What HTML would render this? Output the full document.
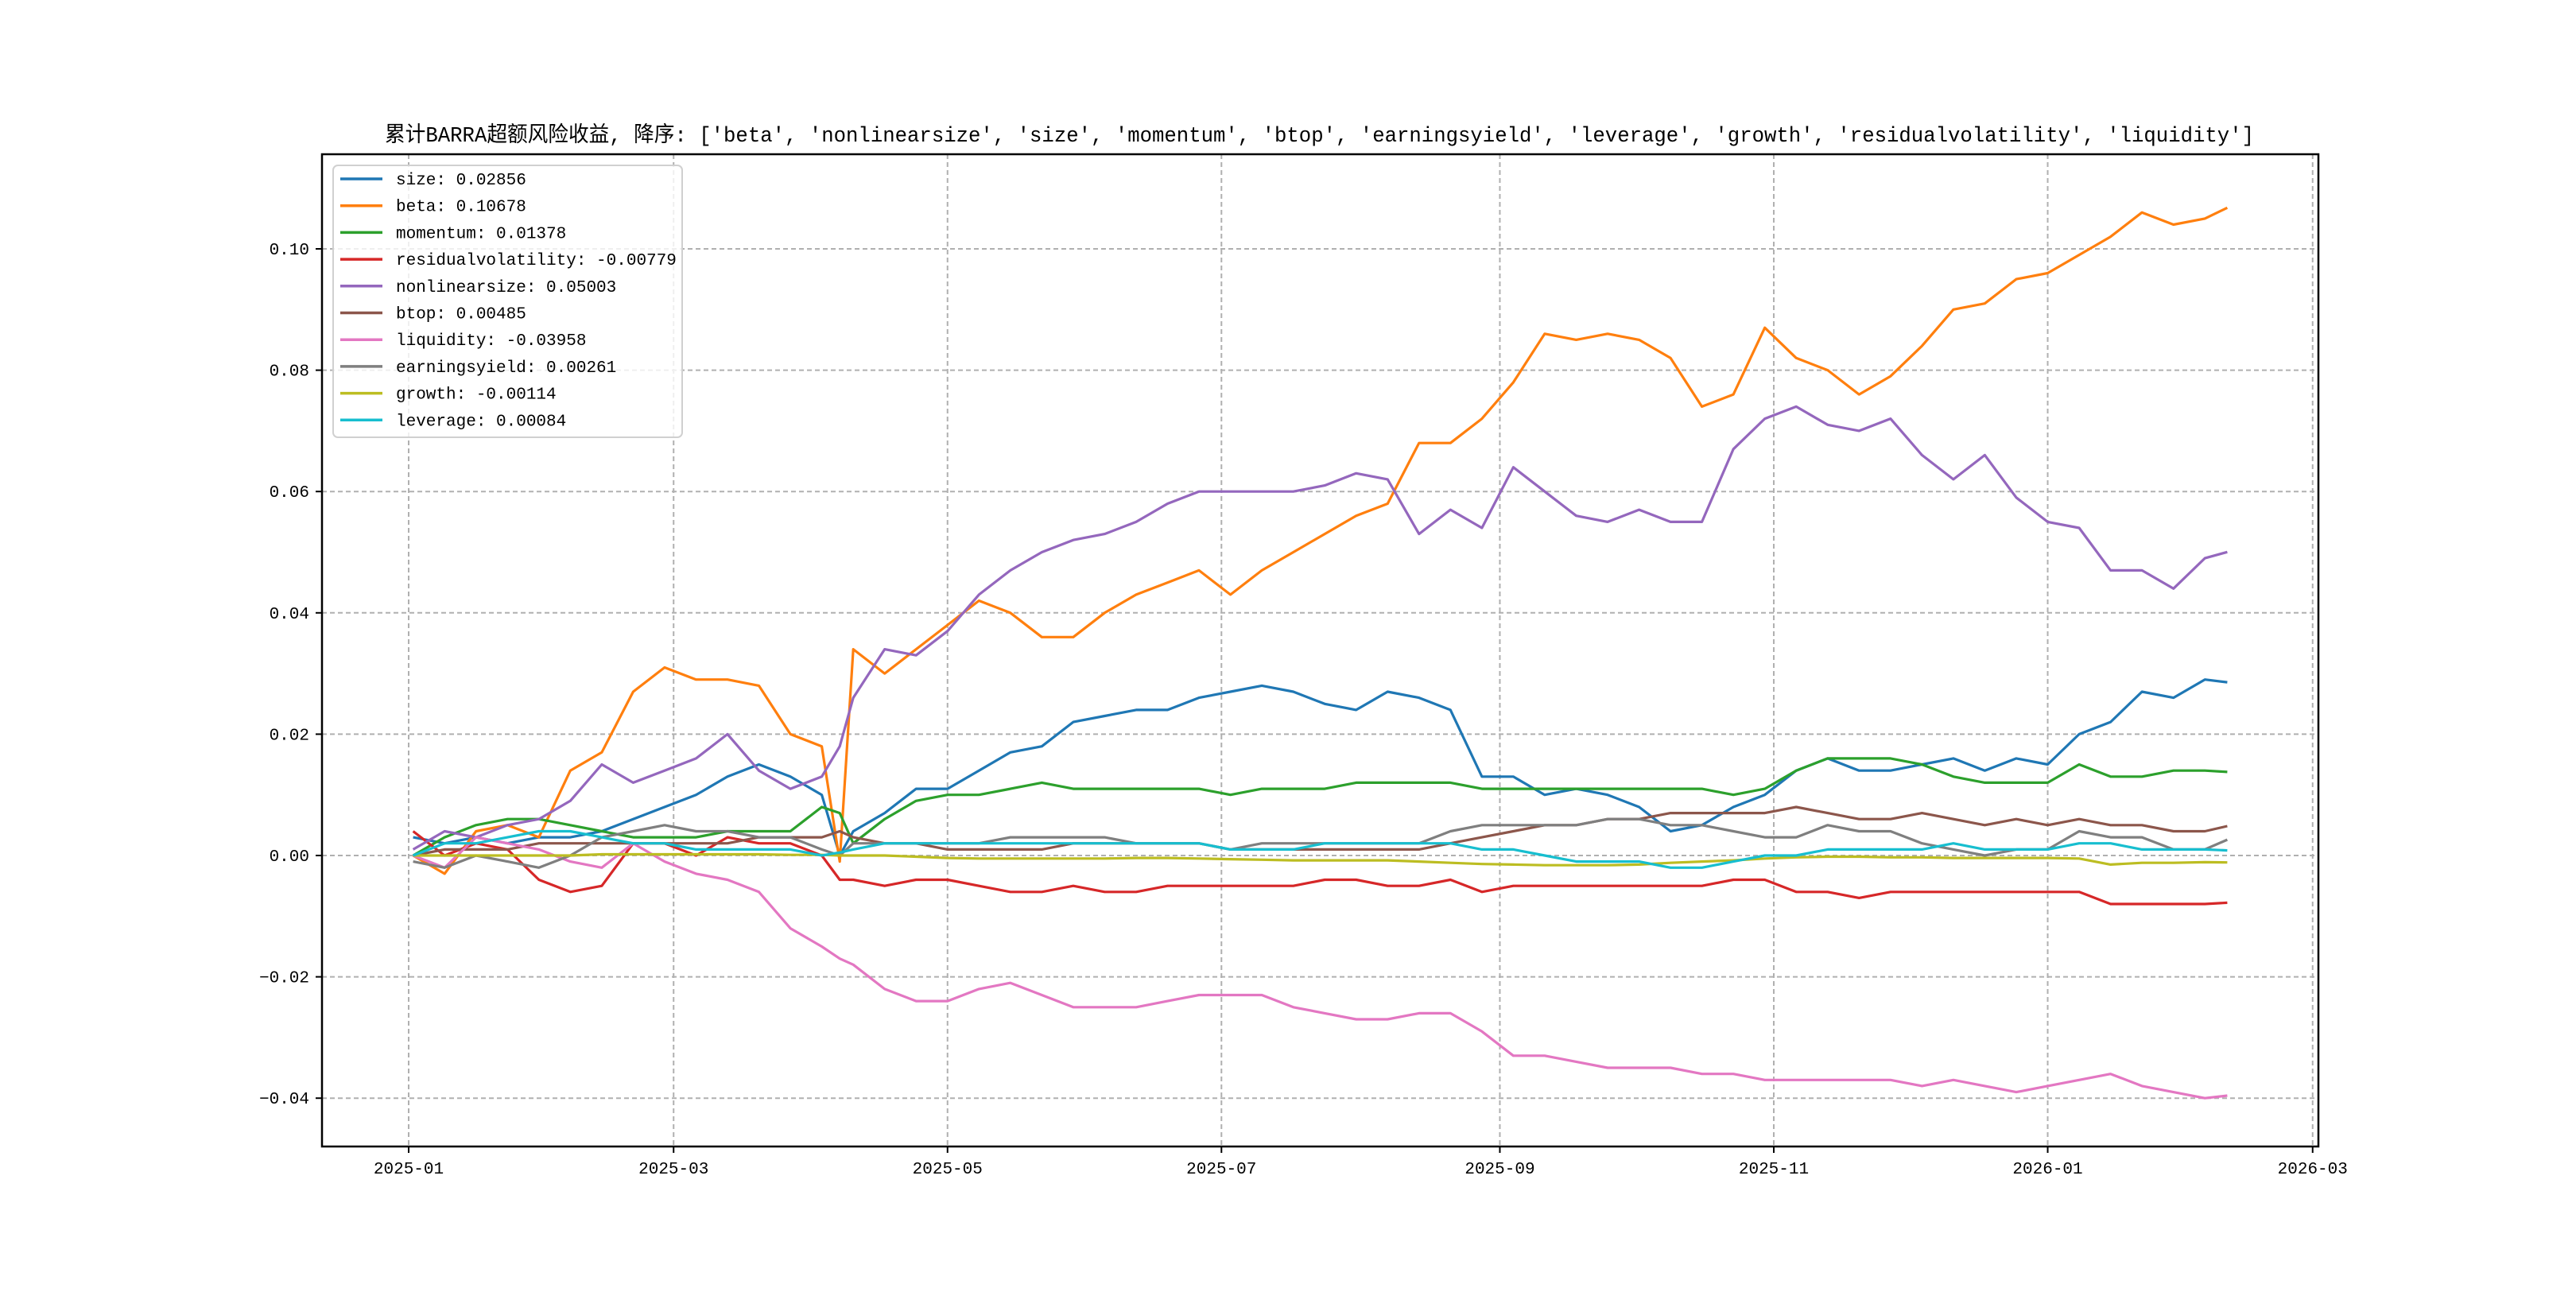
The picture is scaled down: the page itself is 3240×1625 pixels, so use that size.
<!DOCTYPE html>
<html><head><meta charset="utf-8">
<style>
html,body{margin:0;padding:0;background:#fff;}
svg text{font-family:"Liberation Mono","WenQuanYi Zen Hei","Noto Sans CJK SC",monospace;}
</style></head>
<body>
<svg id="chart" width="3240" height="1620" viewBox="0 0 3240 1620" xmlns="http://www.w3.org/2000/svg">
<rect x="0" y="0" width="3240" height="1620" fill="#fff"/>
<g id="grid"></g>
<g id="series"></g>
<rect x="405" y="194" width="2511" height="1248" fill="none" stroke="#000" stroke-width="2.5"/>
<g id="axes"></g>
<text x="484" y="178" textLength="2351" lengthAdjust="spacingAndGlyphs" font-size="27" fill="#000">累计BARRA超额风险收益,  降序: ['beta', 'nonlinearsize', 'size', 'momentum', 'btop', 'earningsyield', 'leverage', 'growth', 'residualvolatility', 'liquidity']</text>
<g id="legend"></g>
</svg>
<script>
const days = [1,8,15,22,29,36,43,50,57,64,71,78,85,92,96,99,106,113,120,127,134,141,148,155,162,169,176,183,190,197,204,211,218,225,232,239,246,253,260,267,274,281,288,295,302,309,316,323,330,337,344,351,358,365,372,379,386,393,400,405];
const beta = [0,-0.003,0.004,0.005,0.003,0.014,0.017,0.027,0.031,0.029,0.029,0.028,0.020,0.018,-0.001,0.034,0.030,0.034,0.038,0.042,0.040,0.036,0.036,0.040,0.043,0.045,0.047,0.043,0.047,0.050,0.053,0.056,0.058,0.068,0.068,0.072,0.078,0.086,0.085,0.086,0.085,0.082,0.074,0.076,0.087,0.082,0.080,0.076,0.079,0.084,0.090,0.091,0.095,0.096,0.099,0.102,0.106,0.104,0.105,0.10678];
const nonlinearsize = [0.001,0.004,0.003,0.005,0.006,0.009,0.015,0.012,0.014,0.016,0.020,0.014,0.011,0.013,0.018,0.026,0.034,0.033,0.037,0.043,0.047,0.050,0.052,0.053,0.055,0.058,0.060,0.060,0.060,0.060,0.061,0.063,0.062,0.053,0.057,0.054,0.064,0.060,0.056,0.055,0.057,0.055,0.055,0.067,0.072,0.074,0.071,0.070,0.072,0.066,0.062,0.066,0.059,0.055,0.054,0.047,0.047,0.044,0.049,0.05003];
const size = [0.003,0.002,0.003,0.002,0.003,0.003,0.004,0.006,0.008,0.010,0.013,0.015,0.013,0.010,0.000,0.004,0.007,0.011,0.011,0.014,0.017,0.018,0.022,0.023,0.024,0.024,0.026,0.027,0.028,0.027,0.025,0.024,0.027,0.026,0.024,0.013,0.013,0.010,0.011,0.010,0.008,0.004,0.005,0.008,0.010,0.014,0.016,0.014,0.014,0.015,0.016,0.014,0.016,0.015,0.020,0.022,0.027,0.026,0.029,0.02856];
const momentum = [0,0.003,0.005,0.006,0.006,0.005,0.004,0.003,0.003,0.003,0.004,0.004,0.004,0.008,0.007,0.002,0.006,0.009,0.010,0.010,0.011,0.012,0.011,0.011,0.011,0.011,0.011,0.010,0.011,0.011,0.011,0.012,0.012,0.012,0.012,0.011,0.011,0.011,0.011,0.011,0.011,0.011,0.011,0.010,0.011,0.014,0.016,0.016,0.016,0.015,0.013,0.012,0.012,0.012,0.015,0.013,0.013,0.014,0.014,0.01378];
const residualvolatility = [0.004,0.000,0.002,0.001,-0.004,-0.006,-0.005,0.002,0.002,0.000,0.003,0.002,0.002,0.000,-0.004,-0.004,-0.005,-0.004,-0.004,-0.005,-0.006,-0.006,-0.005,-0.006,-0.006,-0.005,-0.005,-0.005,-0.005,-0.005,-0.004,-0.004,-0.005,-0.005,-0.004,-0.006,-0.005,-0.005,-0.005,-0.005,-0.005,-0.005,-0.005,-0.004,-0.004,-0.006,-0.006,-0.007,-0.006,-0.006,-0.006,-0.006,-0.006,-0.006,-0.006,-0.008,-0.008,-0.008,-0.008,-0.00779];
const btop = [0,0.001,0.001,0.001,0.002,0.002,0.002,0.002,0.002,0.002,0.002,0.003,0.003,0.003,0.004,0.003,0.002,0.002,0.001,0.001,0.001,0.001,0.002,0.002,0.002,0.002,0.002,0.001,0.001,0.001,0.001,0.001,0.001,0.001,0.002,0.003,0.004,0.005,0.005,0.006,0.006,0.007,0.007,0.007,0.007,0.008,0.007,0.006,0.006,0.007,0.006,0.005,0.006,0.005,0.006,0.005,0.005,0.004,0.004,0.00485];
const liquidity = [0,-0.002,0.003,0.002,0.001,-0.001,-0.002,0.002,-0.001,-0.003,-0.004,-0.006,-0.012,-0.015,-0.017,-0.018,-0.022,-0.024,-0.024,-0.022,-0.021,-0.023,-0.025,-0.025,-0.025,-0.024,-0.023,-0.023,-0.023,-0.025,-0.026,-0.027,-0.027,-0.026,-0.026,-0.029,-0.033,-0.033,-0.034,-0.035,-0.035,-0.035,-0.036,-0.036,-0.037,-0.037,-0.037,-0.037,-0.037,-0.038,-0.037,-0.038,-0.039,-0.038,-0.037,-0.036,-0.038,-0.039,-0.040,-0.03958];
const earningsyield = [-0.001,-0.002,0.000,-0.001,-0.002,0.000,0.003,0.004,0.005,0.004,0.004,0.003,0.003,0.001,0.000,0.002,0.002,0.002,0.002,0.002,0.003,0.003,0.003,0.003,0.002,0.002,0.002,0.001,0.002,0.002,0.002,0.002,0.002,0.002,0.004,0.005,0.005,0.005,0.005,0.006,0.006,0.005,0.005,0.004,0.003,0.003,0.005,0.004,0.004,0.002,0.001,0.000,0.001,0.001,0.004,0.003,0.003,0.001,0.001,0.00261];
const growth = [0,0,0,0,0,0,0.0002,0.0002,0.0002,0.0002,0.0002,0.0002,0.0001,0.0001,0,0,0,-0.0002,-0.0004,-0.0005,-0.0005,-0.0005,-0.0005,-0.0005,-0.0004,-0.0004,-0.0005,-0.0006,-0.0007,-0.0008,-0.0008,-0.0008,-0.0008,-0.001,-0.0012,-0.0014,-0.0015,-0.0016,-0.0016,-0.0016,-0.0015,-0.0012,-0.0010,-0.0008,-0.0005,-0.0003,-0.0002,-0.0002,-0.0003,-0.0003,-0.0004,-0.0004,-0.0004,-0.0004,-0.0005,-0.0015,-0.0012,-0.0012,-0.0011,-0.00114];
const leverage = [0,0.002,0.002,0.003,0.004,0.004,0.003,0.002,0.002,0.001,0.001,0.001,0.001,0.000,0.0005,0.001,0.002,0.002,0.002,0.002,0.002,0.002,0.002,0.002,0.002,0.002,0.002,0.001,0.001,0.001,0.002,0.002,0.002,0.002,0.002,0.001,0.001,0.000,-0.001,-0.001,-0.001,-0.002,-0.002,-0.001,0.000,0.000,0.001,0.001,0.001,0.001,0.002,0.001,0.001,0.001,0.002,0.002,0.001,0.001,0.001,0.00084];
const seriesNames = ['size','beta','momentum','residualvolatility','nonlinearsize','btop','liquidity','earningsyield','growth','leverage'];
const seriesValues = [size,beta,momentum,residualvolatility,nonlinearsize,btop,liquidity,earningsyield,growth,leverage];
const finalLabels = ['0.02856','0.10678','0.01378','-0.00779','0.05003','0.00485','-0.03958','0.00261','-0.00114','0.00084'];
const colors = ['#1f77b4','#ff7f0e','#2ca02c','#d62728','#9467bd','#8c564b','#e377c2','#7f7f7f','#bcbd22','#17becf'];
const yTicks = [-0.04,-0.02,0.00,0.02,0.04,0.06,0.08,0.10];
const yTickLabels = ['−0.04','−0.02','0.00','0.02','0.04','0.06','0.08','0.10'];
const xTickDays = [0,59,120,181,243,304,365,424];
const xTickLabels = ['2025-01','2025-03','2025-05','2025-07','2025-09','2025-11','2026-01','2026-03'];

const NS='http://www.w3.org/2000/svg';
const X0=514, PXD=5.648, Y0=1076, PXU=7630;
const L=405,R=2916,T=194,B=1442;
function xs(d){return X0+d*PXD;}
function ys(v){return Y0-v*PXU;}
function mk(tag,attrs,parent){const e=document.createElementNS(NS,tag);for(const k in attrs)e.setAttribute(k,attrs[k]);parent.appendChild(e);return e;}
const grid=document.getElementById('grid'),axes=document.getElementById('axes'),ser=document.getElementById('series'),leg=document.getElementById('legend');
yTicks.forEach((t,i)=>{
  const y=ys(t);
  const g=mk('line',{x1:L,x2:R,y1:y,y2:y,stroke:'#b0b0b0','stroke-width':2,'stroke-dasharray':'6,4'},grid);
  
  
  const tk=mk('line',{x1:L-8,x2:L,y1:y,y2:y,stroke:'#000','stroke-width':2},axes);
  
  
  const tx=mk('text',{x:L-16,y:y+7,'text-anchor':'end','font-size':21,fill:'#000'},axes);
  tx.textContent=yTickLabels[i];
  
  
});
xTickDays.forEach((d,i)=>{
  const x=xs(d);
  const g=mk('line',{x1:x,x2:x,y1:T,y2:B,stroke:'#b0b0b0','stroke-width':2,'stroke-dasharray':'6,4'},grid);
  
  
  const tk=mk('line',{x1:x,x2:x,y1:B,y2:B+8,stroke:'#000','stroke-width':2},axes);
  
  
  const tx=mk('text',{x:x,y:B+34,'text-anchor':'middle','font-size':21,fill:'#000'},axes);
  tx.textContent=xTickLabels[i];
  
  
});
seriesValues.forEach((vals,si)=>{
  const pts=vals.map((v,i)=>xs(days[i]).toFixed(1)+','+ys(v).toFixed(1)).join(' ');
  const p=mk('polyline',{points:pts,fill:'none',stroke:colors[si],'stroke-width':3.2,'stroke-linejoin':'round'},ser);
  
  
});
const lb=mk('rect',{x:419,y:208,width:439,height:342,rx:6,fill:'#fff','fill-opacity':0.8,stroke:'#d0d0d0','stroke-width':2},leg);


seriesNames.forEach((n,i)=>{
  const y=225+i*33.7;
  const ln=mk('line',{x1:428,x2:481,y1:y,y2:y,stroke:colors[i],'stroke-width':3.5},leg);
  
  
  const t=mk('text',{x:498,y:y+7,'font-size':21,fill:'#000'},leg);
  t.textContent=n+': '+finalLabels[i];
  
  
});
</script>
</body></html>
